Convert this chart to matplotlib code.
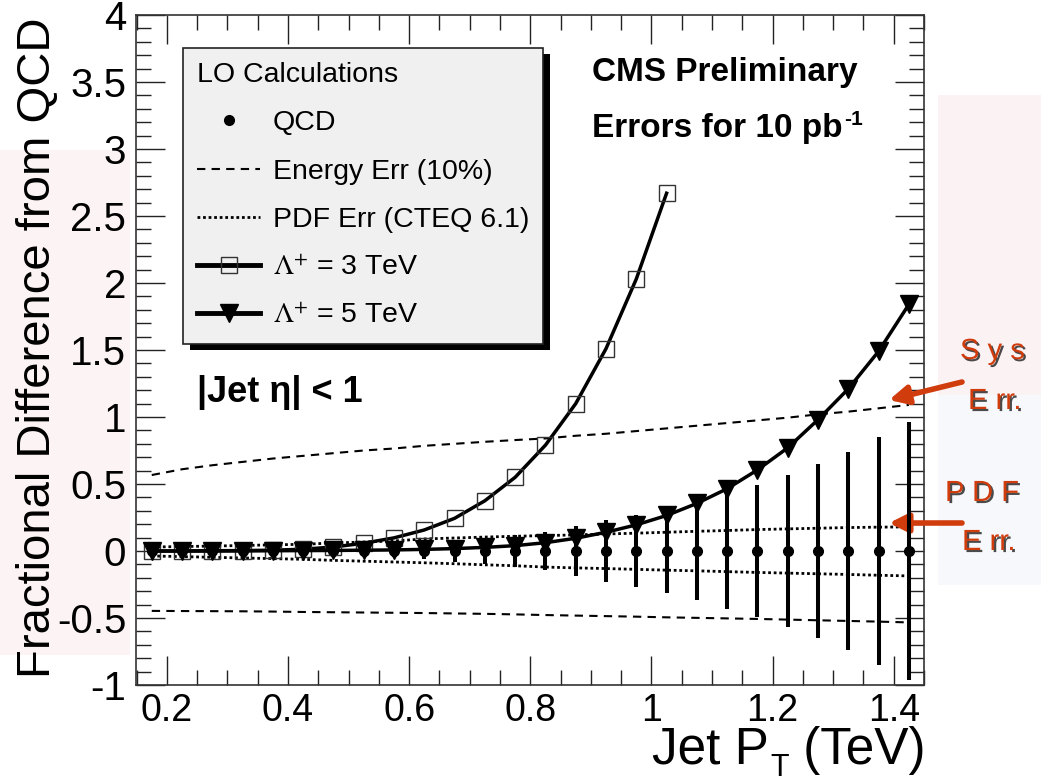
import matplotlib
matplotlib.use("Agg")
import matplotlib.pyplot as plt
import matplotlib.patheffects as pe
from matplotlib.lines import Line2D
from matplotlib.patches import Rectangle
from matplotlib.transforms import IdentityTransform
from matplotlib.ticker import MultipleLocator, FormatStrFormatter
from matplotlib import font_manager

# bin centres (TeV)
pt = [0.175, 0.225, 0.275, 0.325, 0.375, 0.425, 0.475, 0.525, 0.575, 0.625,
      0.675, 0.725, 0.775, 0.825, 0.875, 0.925, 0.975, 1.025, 1.075, 1.125,
      1.175, 1.225, 1.275, 1.325, 1.375, 1.425]

qcd = [0.0] * 26
qcd_err = [0.008, 0.010, 0.012, 0.015, 0.018, 0.022, 0.028, 0.035, 0.045, 0.060,
           0.080, 0.098, 0.118, 0.145, 0.190, 0.230, 0.265, 0.310, 0.366, 0.430,
           0.490, 0.565, 0.650, 0.740, 0.850, 0.960]

pt_3tev = pt[:18]
lam_3tev = [0.0, 0.0, 0.002, 0.003, 0.006, 0.013, 0.030, 0.058, 0.098, 0.157,
            0.244, 0.375, 0.55, 0.79, 1.10, 1.51, 2.03, 2.67]

lam_5tev = [0.0, 0.0, 0.0, 0.001, 0.002, 0.003, 0.004, 0.006, 0.008, 0.012,
            0.018, 0.027, 0.040, 0.062, 0.095, 0.140, 0.195, 0.265, 0.355, 0.465,
            0.605, 0.770, 0.980, 1.210, 1.490, 1.840]

sys_up = [0.567, 0.610, 0.640, 0.665, 0.690, 0.710, 0.730, 0.750, 0.765, 0.785,
          0.800, 0.815, 0.828, 0.840, 0.860, 0.875, 0.895, 0.915, 0.935, 0.955,
          0.975, 0.995, 1.020, 1.040, 1.065, 1.090]
sys_dn = [-0.447, -0.448, -0.449, -0.450, -0.452, -0.455, -0.457, -0.459, -0.461, -0.463,
          -0.466, -0.469, -0.473, -0.478, -0.482, -0.486, -0.490, -0.495, -0.499, -0.503,
          -0.507, -0.512, -0.517, -0.522, -0.527, -0.533]

pdf_up = [0.030, 0.033, 0.037, 0.041, 0.046, 0.050, 0.060, 0.067, 0.075, 0.090,
          0.097, 0.104, 0.110, 0.115, 0.120, 0.127, 0.133, 0.140, 0.147, 0.153,
          0.160, 0.165, 0.170, 0.175, 0.178, 0.180]
pdf_dn = [-0.037, -0.042, -0.047, -0.052, -0.057, -0.062, -0.070, -0.076, -0.082, -0.088,
          -0.095, -0.103, -0.110, -0.120, -0.126, -0.131, -0.137, -0.143, -0.148, -0.154,
          -0.160, -0.165, -0.170, -0.175, -0.181, -0.186]

names = {f.name for f in font_manager.fontManager.ttflist}
SANS = "Liberation Sans"
NARROW = "Liberation Sans Narrow" if "Liberation Sans Narrow" in names else SANS

plt.rcParams["font.family"] = [SANS, "DejaVu Sans"]
plt.rcParams["mathtext.fontset"] = "stix"
plt.rcParams["axes.unicode_minus"] = False

W, H = 1041, 780
fig = plt.figure(figsize=(W / 100, H / 100), dpi=100)

# faint slide background in the margins
fig.patches.append(Rectangle((0, 1 - 655 / H), 130 / W, 505 / H, transform=fig.transFigure,
                             facecolor="#fcf3f4", edgecolor="none", zorder=0))
fig.patches.append(Rectangle((938 / W, 1 - 395 / H), 103 / W, 300 / H, transform=fig.transFigure,
                             facecolor="#fbf2f4", edgecolor="none", zorder=0))
fig.patches.append(Rectangle((938 / W, 1 - 585 / H), 103 / W, 190 / H, transform=fig.transFigure,
                             facecolor="#f7f8fb", edgecolor="none", zorder=0))

ax = fig.add_axes([136 / W, 95 / H, 788 / W, 670 / H])
ax.set_zorder(1)
ax.set_facecolor("white")

ax.plot(pt, sys_up, color="black", lw=1.5, ls=(0, (4, 3)))
ax.plot(pt, sys_dn, color="black", lw=1.5, ls=(0, (4, 3)))
ax.plot(pt, pdf_up, color="black", lw=2.0, ls=(0, (1, 1)))
ax.plot(pt, pdf_dn, color="black", lw=2.0, ls=(0, (1, 1)))

ax.errorbar(pt, qcd, yerr=qcd_err, fmt="o", color="black", ms=7, elinewidth=2.9,
            capsize=0, zorder=4)
ax.plot(pt_3tev, lam_3tev, color="black", lw=2.5, marker="s", ms=11, mfc="none",
        mec="#333333", mew=1.0, zorder=5)
ax.plot(pt, lam_5tev, color="black", lw=2.5, marker="v", ms=13, zorder=5)

ax.set_xlim(0.149, 1.45)
ax.set_ylim(-1, 4)
ax.xaxis.set_major_locator(MultipleLocator(0.2))
ax.xaxis.set_minor_locator(MultipleLocator(0.05))
ax.yaxis.set_major_locator(MultipleLocator(0.5))
ax.yaxis.set_minor_locator(MultipleLocator(0.1))
ax.xaxis.set_major_formatter(FormatStrFormatter("%g"))
ax.yaxis.set_major_formatter(FormatStrFormatter("%g"))
ax.tick_params(which="both", direction="in", top=True, right=True, color="#222222")
ax.tick_params(which="major", length=21, width=1.0)
ax.tick_params(which="minor", length=11, width=1.0)
ax.tick_params(axis="y", labelsize=29, pad=7)
ax.tick_params(axis="x", labelsize=27, pad=6)
for lab in ax.get_xticklabels():
    lab.set_family(NARROW)
for sp in ax.spines.values():
    sp.set_color("#333333")
    sp.set_linewidth(1.2)

# legend
handles = [
    Line2D([], [], ls="none", marker="o", color="black", ms=7),
    Line2D([], [], color="black", lw=1.5, ls=(0, (4, 3))),
    Line2D([], [], color="black", lw=2.0, ls=(0, (1, 1))),
    Line2D([], [], color="black", lw=3.5, marker="s", ms=11, mfc="none", mec="#333333", mew=1.0),
    Line2D([], [], color="black", lw=3.5, marker="v", ms=13),
]
labels = ["QCD", "Energy Err (10%)", "PDF Err (CTEQ 6.1)",
          r"$\Lambda^{+}$ = 3 TeV", r"$\Lambda^{+}$ = 5 TeV"]
leg = ax.legend(handles, labels, title="LO Calculations", loc="upper left",
                bbox_to_anchor=(47 / 788, 1 - 33 / 670), fontsize=20.5, title_fontsize=20.5,
                handlelength=2.2, handletextpad=0.45, labelspacing=0.78, borderpad=0.5,
                fancybox=False, numpoints=1, frameon=True, borderaxespad=0)
leg.get_frame().set_facecolor("#f0f0f0")
leg.get_frame().set_edgecolor("#222222")
leg.get_frame().set_linewidth(1.2)
leg.get_frame().set_alpha(1)
leg._legend_box.align = "left"
leg.set_zorder(10)

fig.canvas.draw()
bb = leg.get_window_extent()
ax.add_artist(Rectangle((bb.x0 + 7, bb.y0 - 6), bb.width, bb.height,
                        transform=IdentityTransform(), facecolor="black",
                        edgecolor="none", zorder=9))

# annotations inside the frame
fig.text(592 / W, 1 - 73 / H, "CMS Preliminary", fontsize=24, fontweight="bold", va="center")
t_err = fig.text(592 / W, 1 - 128 / H, "Errors for 10 pb", fontsize=24, fontweight="bold",
                 va="center")
ax.annotate("-1", xy=(1, 1), xycoords=t_err, xytext=(1, 2), textcoords="offset points",
            fontsize=15, fontweight="bold", va="top", ha="left", annotation_clip=False)
fig.text(197 / W, 1 - 393 / H, "|Jet \u03b7| < 1", fontsize=26, fontweight="bold", va="center")

# axis titles
fig.text(38 / W, 1 - 18 / H, "Fractional Difference from QCD", rotation=90, fontsize=34,
         family=NARROW, ha="center", va="top")
t1 = fig.text(652 / W, 1 - 764 / H, "Jet P", fontsize=37, family=NARROW, ha="left",
              va="baseline")
t2 = ax.annotate("T", xy=(1, 0), xycoords=t1, xytext=(1, -1), textcoords="offset points",
                 fontsize=22, family=NARROW, ha="left", va="baseline", annotation_clip=False)
ax.annotate(" (TeV)", xy=(1, 0), xycoords=(t2, t1), xytext=(0, 0), textcoords="offset points",
            fontsize=37, family=NARROW, ha="left", va="bottom", annotation_clip=False)

# red side notes with arrows
red = "#d03c0c"
shadow = [pe.withSimplePatchShadow(offset=(1.5, -1.5), shadow_rgbFace="black", alpha=0.7)]
for txt, x, y in [("S y s", 960, 351), ("E rr.", 968, 401), ("P D F", 945, 493), ("E rr.", 962, 542)]:
    fig.text(x / W, 1 - y / H, txt, fontsize=21, color=red, va="center", ha="left",
             path_effects=shadow)
for tail, tip in [((962, 382), (889, 400)), ((962, 523), (889, 523))]:
    ax.annotate("", xy=(tip[0], H - tip[1]), xycoords="figure pixels",
                xytext=(tail[0], H - tail[1]), textcoords="figure pixels",
                arrowprops=dict(arrowstyle="-|>", color=red, lw=4, mutation_scale=28,
                                shrinkA=0, shrinkB=0), annotation_clip=False)

fig.savefig("out.png", dpi=100)
